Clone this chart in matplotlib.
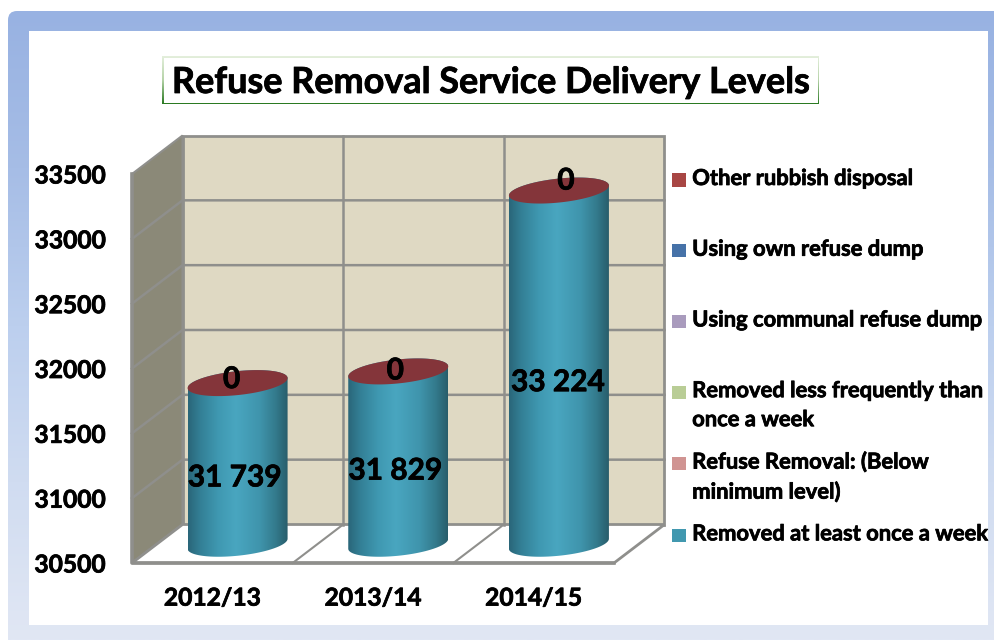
import numpy as np
import matplotlib
matplotlib.use("Agg")
import matplotlib.pyplot as plt
import matplotlib.patheffects as pe
from matplotlib.colors import LinearSegmentedColormap
from matplotlib.patches import FancyBboxPatch, Rectangle, Polygon, PathPatch
from matplotlib.path import Path
from matplotlib.legend_handler import HandlerPatch

categories = ["2012/13", "2013/14", "2014/15"]
removed_weekly = [31739, 31829, 33224]
other_rubbish = [0, 0, 0]
value_labels = ["31 739", "31 829", "33 224"]
y_ticks = [30500, 31000, 31500, 32000, 32500, 33000, 33500]
legend_labels = [
    "Other rubbish disposal\n ",
    "Using own refuse dump\n ",
    "Using communal refuse dump\n ",
    "Removed less frequently than\nonce a week",
    "Refuse Removal: (Below\nminimum level)",
    "Removed at least once a week\n ",
]
legend_colors = ["#a84644", "#4672a8", "#a99bbd", "#b9cd96", "#d09492", "#4198af"]
title = "Refuse Removal Service Delivery Levels"

W, H = 995, 640
FONT = "Lato"
plt.rcParams["font.family"] = [FONT, "DejaVu Sans"]
plt.rcParams["font.weight"] = "bold"

fig = plt.figure(figsize=(W / 100, H / 100), dpi=100, facecolor="white")

# ---------- page frame (pixel coordinates) ----------
bg = fig.add_axes([0, 0, 1, 1], zorder=0)
bg.set_xlim(0, W)
bg.set_ylim(H, 0)
bg.axis("off")
frame_cmap = LinearSegmentedColormap.from_list(
    "frame", ["#98b2e2", "#a6bde6", "#bccfee", "#d0dcf1", "#e1e7f4"])
im = bg.imshow(np.linspace(0, 1, 256)[:, None], cmap=frame_cmap, aspect="auto",
               extent=(8, W + 20, H, 11), zorder=1)
clip = FancyBboxPatch((8, 11), W + 20, H + 20, boxstyle="round,pad=0,rounding_size=9",
                      transform=bg.transData, fc="none", ec="none")
bg.add_patch(clip)
im.set_clip_path(clip)
bg.add_patch(Rectangle((29, 31), 959, 594, fc="white", ec="none", zorder=2))

# title box with a green gradient edge
edge_cmap = LinearSegmentedColormap.from_list("edge", ["#e4efdc", "#b5d3a8", "#2a7a22"])
bg.imshow(np.linspace(0, 1, 64)[:, None], cmap=edge_cmap, aspect="auto",
          extent=(162, 819, 104, 56), zorder=3)
bg.add_patch(Rectangle((163.5, 57.5), 654, 45, fc="white", ec="none", zorder=4))
bg.set_xlim(0, W)
bg.set_ylim(H, 0)

# ---------- chart: axes is the front plane of the 3-D box ----------
L, R, T, B = 132, 614, 174, 563
ax = fig.add_axes([L / W, 1 - B / H, (R - L) / W, (B - T) / H], zorder=1)
ax.patch.set_alpha(0)
ymin, ymax = y_ticks[0], y_ticks[-1]
n = len(categories)
px_x = n / (R - L)
px_y = (ymax - ymin) / (B - T)
DX, DY = 50.5 * px_x, 38.5 * px_y
GRID = "#8f8f8c"

ax.add_patch(Polygon([(0, ymin), (DX, ymin + DY), (DX, ymax + DY), (0, ymax)],
                     fc="#8b8978", ec=GRID, lw=1.5, clip_on=False, zorder=1))
ax.add_patch(Polygon([(DX, ymin + DY), (n + DX, ymin + DY), (n + DX, ymax + DY), (DX, ymax + DY)],
                     fc="#dfd9c3", ec=GRID, lw=2, clip_on=False, zorder=1))
ax.add_patch(Polygon([(0, ymin), (DX, ymin + DY), (n + DX, ymin + DY), (n, ymin)],
                     fc="white", ec=GRID, lw=2, clip_on=False, zorder=1.5))
for t in y_ticks[1:-1]:
    ax.plot([0, DX, n + DX], [t, t + DY, t + DY], color=GRID, lw=1.8, clip_on=False, zorder=2,
            solid_joinstyle="miter")
for i in range(1, n):
    ax.plot([i + DX, i + DX], [ymin + DY, ymax + DY], color=GRID, lw=1.8, clip_on=False, zorder=2)
    ax.plot([i, i + DX], [ymin, ymin + DY], color=GRID, lw=1.5, clip_on=False, zorder=2)
ax.plot([0, 0, n], [ymax, ymin, ymin], color=GRID, lw=2.6, clip_on=False, zorder=2.5)

# cylinders
cyl_cmap = LinearSegmentedColormap.from_list(
    "cyl", [(0, "#2a6679"), (0.12, "#337f95"), (0.3, "#3f98b1"), (0.48, "#49a6c0"),
            (0.72, "#3f94ac"), (0.88, "#337a8c"), (1, "#285d6b")])
RX = 50 * px_x
RY = 12 * px_y
SHEAR = 5 * px_y
theta = np.linspace(0, 2 * np.pi, 121)


def ellipse(cx, cy, th):
    return cx + RX * np.cos(th), cy + RY * np.sin(th) + SHEAR * np.cos(th)


for i, (v, z) in enumerate(zip(removed_weekly, other_rubbish)):
    cx = i + 0.5 + DX / 2
    base = ymin + DY / 2
    top = v + z + DY / 2
    th_low = np.linspace(np.pi, 2 * np.pi, 61)
    th_up = np.linspace(0, np.pi, 61)
    bx, by = ellipse(cx, base, th_low)
    tx, ty = ellipse(cx, top, th_up)
    verts = np.r_[np.c_[bx, by], np.c_[tx, ty], [[bx[0], by[0]]]]
    body = PathPatch(Path(verts, closed=True), transform=ax.transData, fc="none", ec="none", zorder=3)
    ax.add_patch(body)
    img = ax.imshow(np.linspace(0, 1, 256)[None, :], cmap=cyl_cmap, aspect="auto",
                    extent=(cx - RX, cx + RX, base - 2 * RY, top + 2 * RY), zorder=3)
    img.set_clip_path(body)
    ex, ey = ellipse(cx, top, theta)
    ax.fill(ex, ey, color="#84353a", lw=0, zorder=4, clip_on=False)

ax.set_xlim(0, n)
ax.set_ylim(ymin, ymax)

# data labels
label_offsets = [(-3, 14), (-3, 13), (-1, 15)]
zero_offsets = [(-6, 4), (-3, 1), (7, 10)]
data_texts = []
for i, v in enumerate(removed_weekly):
    cx = i + 0.5 + DX / 2
    top = v + DY / 2
    base = ymin + DY / 2
    ox, oy = label_offsets[i]
    data_texts.append(ax.annotate(value_labels[i], (cx, (top + base) / 2), xytext=(ox * 0.72, -oy * 0.72),
                                  textcoords="offset points", ha="center", va="center",
                                  fontsize=21.5, fontweight="bold", color="black", zorder=6))
    ox, oy = zero_offsets[i]
    data_texts.append(ax.annotate(str(other_rubbish[i]), (cx, top), xytext=(ox * 0.72, oy * 0.72),
                                  textcoords="offset points", ha="center", va="center",
                                  fontsize=21.5, fontweight="bold", color="black", zorder=6))

# axes text
ax.set_xticks([i + 0.5 for i in range(n)], categories)
ax.set_yticks(y_ticks, [str(t) for t in y_ticks])
ax.tick_params(axis="both", length=0, labelsize=17.7)
ax.tick_params(axis="x", pad=17)
ax.tick_params(axis="y", pad=19)
for s in ax.spines.values():
    s.set_visible(False)
title_text = ax.set_title(title, x=(491 - L) / (R - L), y=1 + (174 - 93) / (B - T), fontsize=25.9,
                          fontweight="bold", color="black", pad=0, va="baseline")


# legend
def square(legend, orig_handle, xdescent, ydescent, width, height, fontsize):
    return Rectangle((width - 9.6, height * 0.72 + 0.5), 9.6, 9.6)


handles = [Rectangle((0, 0), 1, 1, fc=c, ec="none") for c in legend_colors]
leg = ax.legend(handles, legend_labels, loc="upper left",
                bbox_to_anchor=(672 / W, 1 - 168 / H), bbox_transform=fig.transFigure,
                frameon=False, fontsize=15.8, ncol=1, borderpad=0, borderaxespad=0,
                handlelength=0.62, handleheight=1, handletextpad=0.3, labelspacing=0.945,
                handler_map={Rectangle: HandlerPatch(patch_func=square)})
for t in leg.get_texts():
    t.set_fontweight("bold")
    t.set_linespacing(1.47)

# the reference's text is heavier than Lato Bold: thicken it slightly
heavy = [pe.withStroke(linewidth=0.55, foreground="black")]
for t in (list(leg.get_texts()) + ax.get_xticklabels() + ax.get_yticklabels()
          + data_texts + [title_text]):
    t.set_path_effects(heavy)

fig.savefig("out.png", dpi=100)
